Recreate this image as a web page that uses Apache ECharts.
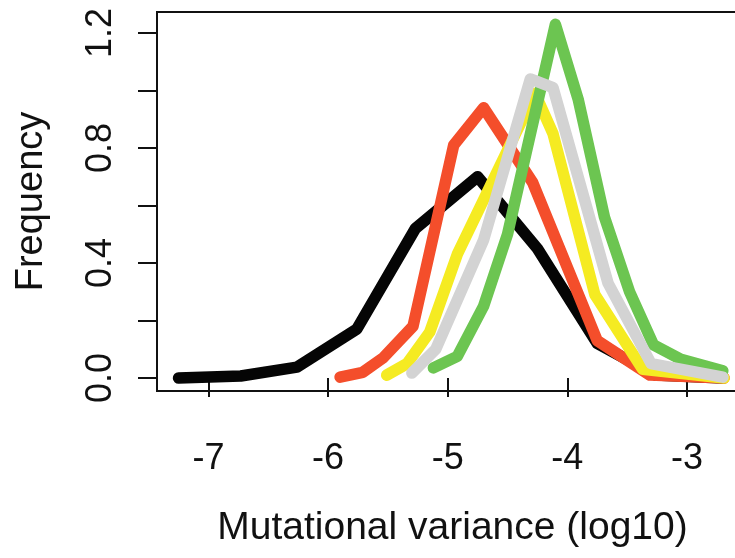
<!DOCTYPE html>
<html>
<head>
<meta charset="utf-8">
<script src="https://cdn.jsdelivr.net/npm/echarts@6/dist/echarts.min.js"></script>
<style>html,body{margin:0;padding:0;background:#fff;overflow:hidden}#c{width:735px;height:558px}</style>
</head>
<body>
<div id="c"></div>
<script>
var xTicks = [-7, -6, -5, -4, -3];
var yTicks = [0, 0.2, 0.4, 0.6, 0.8, 1.0, 1.2];
var yLabels = [0, 0.4, 0.8, 1.2];

var blackX = [-7.25, -6.73, -6.26, -5.76, -5.27, -4.75, -4.25, -3.75, -3.26, -2.70];
var blackY = [0.0, 0.007, 0.038, 0.17, 0.52, 0.70, 0.45, 0.12, 0.01, 0.0];
var redX = [-5.90, -5.71, -5.54, -5.29, -4.95, -4.70, -4.29, -3.75, -3.31, -2.69];
var redY = [0.003, 0.02, 0.07, 0.18, 0.81, 0.94, 0.68, 0.13, 0.01, 0.0];
var yellowX = [-5.51, -5.34, -5.15, -4.92, -4.27, -4.12, -3.77, -3.37, -2.69];
var yellowY = [0.01, 0.05, 0.16, 0.43, 0.99, 0.85, 0.29, 0.03, 0.0];
var greenX = [-5.12, -4.92, -4.70, -4.50, -4.10, -3.91, -3.69, -3.48, -3.28, -3.05, -2.70];
var greenY = [0.035, 0.075, 0.25, 0.50, 1.23, 0.97, 0.56, 0.30, 0.115, 0.065, 0.025];
var grayX = [-5.30, -5.10, -4.70, -4.31, -4.12, -3.66, -3.30, -2.70];
var grayY = [0.017, 0.10, 0.48, 1.04, 1.01, 0.33, 0.05, 0.003];

function pairs(xs, ys) { return xs.map(function (x, i) { return [x, ys[i]]; }); }
function line(name, xs, ys, color) {
  return {
    name: name, type: 'line', data: pairs(xs, ys), symbol: 'none', silent: true,
    lineStyle: { color: color, width: 11.5, cap: 'round', join: 'round' }
  };
}

var chart = echarts.init(document.getElementById('c'), null, { renderer: 'canvas' });
var FONT = '"Liberation Sans", Arial, Helvetica, sans-serif';
chart.setOption({
  animation: false,
  backgroundColor: '#fff',
  grid: { left: 157, top: 12, width: 591, height: 379, outerBoundsMode: 'none', containLabel: false, show: true, borderColor: '#111', borderWidth: 2, backgroundColor: 'transparent' },
  xAxis: {
    type: 'value', min: -7.43, max: -2.49,
    name: 'Mutational variance (log10)', nameLocation: 'middle', nameGap: 118,
    nameTextStyle: { fontFamily: FONT, fontSize: 39, color: '#111' },
    axisLine: { show: false },
    axisTick: { show: true, length: 19, lineStyle: { color: '#111', width: 2 }, customValues: xTicks },
    axisLabel: { fontFamily: FONT, fontSize: 36, color: '#111', margin: 50, customValues: xTicks, formatter: function (v) { return String(v); } },
    splitLine: { show: false }
  },
  yAxis: {
    type: 'value', min: -0.0452, max: 1.273,
    name: 'Frequency', nameLocation: 'middle', nameGap: 106, nameRotate: 90,
    nameTextStyle: { fontFamily: FONT, fontSize: 38, color: '#111' },
    axisLine: { show: false },
    axisTick: { show: true, length: 19, lineStyle: { color: '#111', width: 2 }, customValues: yTicks },
    axisLabel: { fontFamily: FONT, fontSize: 36, color: '#111', margin: 38, rotate: 90, customValues: yLabels, formatter: function (v) { return v.toFixed(1); } },
    splitLine: { show: false }
  },
  series: [
    line('black', blackX, blackY, '#050505'),
    line('red', redX, redY, '#F44E2B'),
    line('yellow', yellowX, yellowY, '#F5EB22'),
    line('green', greenX, greenY, '#6CC551'),
    line('gray', grayX, grayY, '#D3D3D3')
  ]
});
</script>
</body>
</html>
